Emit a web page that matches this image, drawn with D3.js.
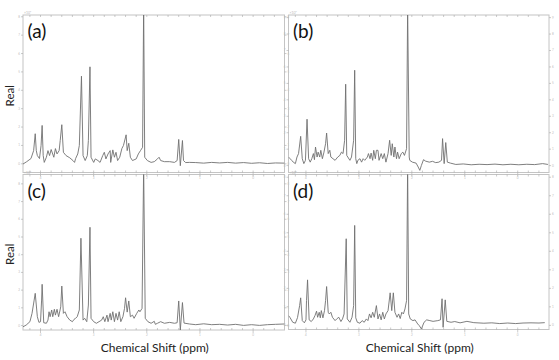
<!DOCTYPE html>
<html><head><meta charset="utf-8">
<script src="https://cdn.jsdelivr.net/npm/d3@7"></script>
<style>html,body{margin:0;padding:0;background:#fff;}svg{display:block;}</style>
</head><body>
<svg id="chart" width="559" height="360"></svg>
<script>
// ---------- data (ppm, intensity in axis units) ----------
const panelLabels = ["(a)", "(b)", "(c)", "(d)"];
const yLabel = "Real";
const xLabel = "Chemical Shift (ppm)";
const xMajorTicks = [4, 3, 2, 1, 0];
const xMinorTicks = [4.2,4.0,3.8,3.6,3.4,3.2,3.0,2.8,2.6,2.4,2.2,2.0,1.8,1.6,1.4,1.2,1.0,0.8,0.6,0.4,0.2,0.0,-0.2,-0.4];
const exponentLabel = "\u00d710\u2076";

const specA = [[4.32,-0.04],[4.25,0.09],[4.17,0.26],[4.12,0.69],[4.09,1.61],[4.07,0.69],[4.05,0.42],[4.01,0.26],[3.98,0.97],[3.96,2.06],[3.94,0.42],[3.92,0.05],[3.88,0.33],[3.85,0.69],[3.82,0.42],[3.79,0.75],[3.74,0.33],[3.71,0.80],[3.68,0.51],[3.64,0.69],[3.62,1.24],[3.59,2.10],[3.56,0.60],[3.51,0.42],[3.44,0.30],[3.38,0.15],[3.35,0.05],[3.33,0.26],[3.29,0.51],[3.26,0.97],[3.22,4.74],[3.19,0.42],[3.15,0.15],[3.11,0.42],[3.09,1.24],[3.06,5.25],[3.04,0.33],[2.99,0.05],[2.96,0.24],[2.91,0.15],[2.87,0.05],[2.82,0.42],[2.79,0.60],[2.76,0.24],[2.72,0.51],[2.68,0.69],[2.67,0.05],[2.63,0.73],[2.60,0.33],[2.57,0.60],[2.54,0.15],[2.50,0.33],[2.46,0.80],[2.43,0.97],[2.38,1.55],[2.36,0.69],[2.33,1.09],[2.30,0.33],[2.26,0.15],[2.19,0.24],[2.15,0.51],[2.11,0.69],[2.07,0.87],[2.05,8.6],[2.03,0.33],[1.98,0.15],[1.91,0.05],[1.85,0.09],[1.79,0.24],[1.76,0.33],[1.73,0.15],[1.66,0.09],[1.56,0.09],[1.47,0.05],[1.42,0.15],[1.39,1.30],[1.36,-0.13],[1.32,1.24],[1.30,0.15],[1.26,0.04],[1.19,0.05],[1.07,0.04],[0.92,0.01],[0.77,0.05],[0.62,0.02],[0.47,0.05],[0.32,0.01],[0.17,0.04],[0.02,0.00],[-0.13,0.03],[-0.28,-0.01],[-0.43,0.02],[-0.60,0.01]];

const specB = [[4.32,0.49],[4.29,0.39],[4.26,0.29],[4.23,0.18],[4.19,0.09],[4.16,0.49],[4.13,0.70],[4.09,1.75],[4.06,0.39],[4.03,0.09],[4.00,0.29],[3.97,2.79],[3.94,0.39],[3.91,0.18],[3.88,0.39],[3.85,0.70],[3.83,0.33],[3.81,1.10],[3.78,0.49],[3.76,0.79],[3.73,0.49],[3.71,0.90],[3.68,0.39],[3.65,0.79],[3.62,1.30],[3.60,1.95],[3.57,0.70],[3.54,0.90],[3.52,0.49],[3.48,0.39],[3.44,0.29],[3.39,0.49],[3.35,0.59],[3.32,0.79],[3.29,0.70],[3.26,1.51],[3.24,4.92],[3.22,0.59],[3.16,0.29],[3.13,0.49],[3.09,1.51],[3.07,5.77],[3.05,0.39],[3.03,0.09],[3.01,0.29],[2.97,0.39],[2.94,0.18],[2.91,0.39],[2.88,0.29],[2.83,0.49],[2.81,0.70],[2.78,0.39],[2.76,0.73],[2.73,0.29],[2.71,0.90],[2.68,0.39],[2.66,0.90],[2.63,0.90],[2.61,0.29],[2.57,0.70],[2.54,0.39],[2.51,0.70],[2.48,0.18],[2.44,0.70],[2.41,1.51],[2.38,0.59],[2.36,1.30],[2.33,0.49],[2.31,1.10],[2.28,0.39],[2.26,0.79],[2.23,0.39],[2.19,0.70],[2.16,0.79],[2.13,0.59],[2.09,1.00],[2.07,9.6],[2.04,0.49],[2.03,0.29],[1.98,0.18],[1.91,0.12],[1.87,-0.12],[1.84,-0.32],[1.81,-0.02],[1.77,0.33],[1.73,0.24],[1.66,0.18],[1.60,0.23],[1.54,0.15],[1.48,0.18],[1.43,0.29],[1.41,1.61],[1.38,0.09],[1.35,1.37],[1.32,0.18],[1.26,0.12],[1.16,0.04],[1.02,0.07],[0.87,0.02],[0.72,0.05],[0.57,0.03],[0.42,0.06],[0.27,0.02],[0.12,0.05],[-0.03,0.02],[-0.18,0.05],[-0.33,0.03],[-0.48,0.09],[-0.58,0.04]];

const specC = [[4.32,-0.10],[4.26,0.00],[4.19,0.19],[4.15,0.66],[4.11,1.41],[4.09,1.79],[4.05,0.47],[4.02,0.15],[3.99,0.19],[3.97,1.41],[3.96,2.30],[3.93,0.13],[3.88,0.10],[3.85,0.28],[3.83,0.75],[3.81,0.47],[3.78,0.85],[3.76,0.47],[3.73,0.89],[3.71,0.56],[3.68,0.89],[3.65,0.47],[3.61,1.03],[3.59,2.20],[3.56,0.66],[3.53,0.75],[3.49,0.47],[3.44,0.28],[3.39,0.19],[3.36,0.32],[3.33,0.38],[3.30,0.47],[3.26,0.85],[3.23,4.90],[3.19,0.28],[3.16,0.38],[3.12,0.19],[3.09,1.13],[3.06,5.52],[3.04,0.38],[2.99,0.19],[2.94,0.10],[2.89,0.19],[2.84,0.28],[2.81,0.47],[2.78,0.19],[2.74,0.56],[2.72,0.19],[2.68,0.66],[2.66,0.28],[2.63,0.75],[2.60,0.19],[2.57,0.66],[2.54,0.28],[2.51,0.75],[2.48,0.19],[2.44,0.47],[2.41,0.94],[2.39,1.54],[2.36,0.73],[2.33,1.36],[2.30,0.47],[2.26,0.56],[2.23,0.38],[2.18,0.66],[2.14,0.85],[2.12,0.75],[2.08,0.94],[2.05,8.9],[2.02,0.38],[1.97,0.19],[1.91,0.10],[1.85,0.21],[1.83,0.04],[1.79,0.10],[1.73,0.19],[1.66,0.10],[1.56,0.15],[1.47,0.10],[1.42,0.13],[1.39,1.36],[1.36,-0.28],[1.32,1.27],[1.29,0.11],[1.19,0.06],[1.07,0.02],[0.92,0.07],[0.77,0.02],[0.62,0.04],[0.47,0.00],[0.32,0.04],[0.17,-0.02],[0.02,0.02],[-0.13,-0.02],[-0.28,0.02],[-0.43,0.04],[-0.60,0.06]];

const specD = [[4.32,0.50],[4.29,0.39],[4.24,0.14],[4.19,0.09],[4.15,0.39],[4.11,1.04],[4.09,1.46],[4.06,0.23],[4.02,0.11],[3.99,0.27],[3.98,1.31],[3.96,2.43],[3.93,0.27],[3.89,0.18],[3.85,0.32],[3.82,0.50],[3.79,0.74],[3.77,0.41],[3.74,0.68],[3.72,0.38],[3.70,0.77],[3.67,0.38],[3.64,0.77],[3.62,1.31],[3.60,2.07],[3.57,0.68],[3.55,0.59],[3.52,0.68],[3.49,0.41],[3.44,0.23],[3.41,0.32],[3.37,0.41],[3.33,0.18],[3.30,0.32],[3.27,0.59],[3.23,4.65],[3.21,0.32],[3.16,0.14],[3.12,0.41],[3.09,1.04],[3.07,5.37],[3.05,0.38],[3.02,0.14],[2.97,0.09],[2.93,0.23],[2.89,0.14],[2.85,0.32],[2.82,0.23],[2.79,0.59],[2.76,0.38],[2.73,0.68],[2.70,0.41],[2.66,1.04],[2.63,0.32],[2.60,0.59],[2.57,0.27],[2.54,0.68],[2.51,0.32],[2.48,0.59],[2.44,0.77],[2.40,1.73],[2.37,0.77],[2.34,1.73],[2.31,0.68],[2.27,0.41],[2.24,0.59],[2.21,0.34],[2.18,0.68],[2.15,0.59],[2.12,0.86],[2.09,1.31],[2.07,8.6],[2.05,0.59],[2.02,0.32],[1.97,0.23],[1.93,0.27],[1.88,0.05],[1.85,-0.04],[1.81,-0.22],[1.76,0.14],[1.71,0.27],[1.65,0.23],[1.59,0.19],[1.50,0.23],[1.45,0.27],[1.42,1.41],[1.40,-0.13],[1.36,1.35],[1.33,0.19],[1.25,0.14],[1.18,0.18],[1.08,0.11],[0.95,0.19],[0.82,0.12],[0.63,0.09],[0.48,0.11],[0.33,0.07],[0.18,0.10],[0.03,0.07],[-0.11,0.10],[-0.26,0.11],[-0.41,0.10],[-0.52,0.12]];

const spectra = [specA, specB, specC, specD];
const yDomains = [[-0.5, 8.07], [-0.45, 9.13], [-0.28, 8.5], [-0.25, 8.12]];
const xDomain = [4.32, -0.6];

// ---------- layout ----------
const frames = [
  {x0: 23,    x1: 284.5, y0: 15,    y1: 172.5},
  {x0: 288.5, x1: 549,   y0: 15,    y1: 172.5},
  {x0: 23,    x1: 284.5, y0: 174.5, y1: 330},
  {x0: 288.5, x1: 549,   y0: 174.5, y1: 329.5}
];

const svg = d3.select("#chart");
const font = "Lato, 'Open Sans', sans-serif";
const axisCol = "#c4c4c4";
const tickCol = "#a8a8a8";

frames.forEach((f, i) => {
  const x = d3.scaleLinear().domain(xDomain).range([f.x0, f.x1]);
  const y = d3.scaleLinear().domain(yDomains[i]).range([f.y1, f.y0]);
  const g = svg.append("g");

  const clipId = "clip" + i;
  svg.append("clipPath").attr("id", clipId)
    .append("rect").attr("x", f.x0).attr("y", f.y0)
    .attr("width", f.x1 - f.x0).attr("height", f.y1 - f.y0);

  g.append("rect").attr("x", f.x0).attr("y", f.y0)
    .attr("width", f.x1 - f.x0).attr("height", f.y1 - f.y0)
    .attr("fill", "none").attr("stroke", axisCol).attr("stroke-width", 1);

  const yt = d3.range(Math.ceil(yDomains[i][0]), Math.floor(yDomains[i][1]) + 1);
  const yAxL = d3.axisLeft(y).tickValues(yt).tickSize(2).tickPadding(1).tickFormat(d3.format("d"));
  const yAxR = d3.axisRight(y).tickValues(yt).tickSize(2).tickPadding(1).tickFormat(d3.format("d"));
  [[yAxL, f.x0], [yAxR, f.x1]].forEach(([ax, tx]) => {
    const a = g.append("g").attr("transform", `translate(${tx},0)`).call(ax);
    a.select(".domain").remove();
    a.selectAll("line").attr("stroke", tickCol).attr("stroke-width", 0.6);
    a.selectAll("text").attr("font-size", 3).attr("fill", "#bbb").attr("font-family", font);
  });

  const xb = d3.axisBottom(x).tickValues(xMinorTicks).tickSize(-2).tickFormat("");
  const xt = d3.axisTop(x).tickValues(xMinorTicks).tickSize(-2).tickFormat("");
  const xm = d3.axisBottom(x).tickValues(xMajorTicks).tickSize(3).tickPadding(1).tickFormat(d3.format("d"));
  [[xb, f.y1], [xt, f.y0], [xm, f.y1]].forEach(([ax, ty]) => {
    const a = g.append("g").attr("transform", `translate(0,${ty})`).call(ax);
    a.select(".domain").remove();
    a.selectAll("line").attr("stroke", tickCol).attr("stroke-width", 0.6);
    a.selectAll("text").attr("font-size", 3).attr("fill", "#bbb").attr("font-family", font);
  });

  g.append("text").attr("x", f.x0 + 1).attr("y", f.y0 - 1)
    .attr("font-size", 3.5).attr("fill", "#bbb").attr("font-family", font)
    .text(exponentLabel);

  const line = d3.line().x(d => x(d[0])).y(d => y(d[1]));
  g.append("path").datum(spectra[i])
    .attr("clip-path", `url(#${clipId})`)
    .attr("d", line)
    .attr("fill", "none").attr("stroke", "#707070").attr("stroke-width", 0.9)
    .attr("stroke-linejoin", "round");

  g.append("text").attr("x", f.x0 + 4.5).attr("y", f.y0 + 23)
    .attr("font-size", 19).attr("fill", "#111").attr("font-family", font)
    .text(panelLabels[i]);

  if (i % 2 === 0) {
    const cy = (f.y0 + f.y1) / 2 + 2;
    svg.append("text").attr("transform", `translate(14,${cy}) rotate(-90)`)
      .attr("text-anchor", "middle").attr("font-size", 11.5).attr("fill", "#222")
      .attr("font-family", font).text(yLabel);
  }
  if (i >= 2) {
    svg.append("text").attr("x", (f.x0 + f.x1) / 2 + 1).attr("y", 352)
      .attr("text-anchor", "middle").attr("font-size", 12).attr("fill", "#222")
      .attr("font-family", font).text(xLabel);
  }
});
</script>
</body></html>
